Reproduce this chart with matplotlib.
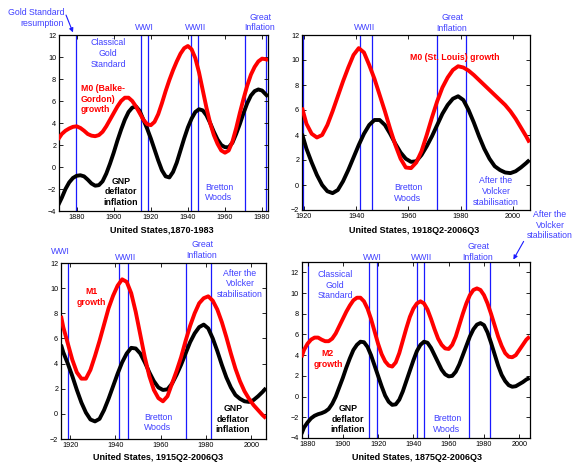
import matplotlib
matplotlib.use("Agg")
import matplotlib.pyplot as plt

plt.rcParams['font.family'] = ['Liberation Sans', 'DejaVu Sans']

W, H = 574, 463

# ---- panel 1: United States 1870-1983, M0 (Balke-Gordon) ----
p1_years = [1870, 1872, 1874, 1876, 1878, 1880, 1882, 1884, 1886, 1888, 1890, 1892, 1894, 1896, 1898,
            1900, 1902, 1904, 1906, 1908, 1910, 1912, 1914, 1916, 1918, 1920, 1922, 1924, 1926, 1928,
            1930, 1932, 1934, 1936, 1938, 1940, 1942, 1944, 1946, 1948, 1950, 1952, 1954, 1956, 1958,
            1960, 1962, 1964, 1966, 1968, 1970, 1972, 1974, 1976, 1978, 1980, 1982, 1983.2]
p1_gnp = [-3.5, -2.8, -2.0, -1.4, -1.0, -0.8, -0.75, -0.85, -1.15, -1.5, -1.7, -1.65, -1.3, -0.6, 0.3,
          1.3, 2.4, 3.4, 4.3, 5.0, 5.4, 5.5, 5.1, 4.3, 3.5, 2.6, 1.6, 0.6, -0.3, -0.85,
          -0.95, -0.45, 0.4, 1.5, 2.6, 3.6, 4.4, 5.0, 5.25, 5.15, 4.7, 4.0, 3.2, 2.5, 2.0,
          1.8, 1.8, 2.2, 3.0, 3.9, 4.9, 5.8, 6.5, 6.9, 7.05, 6.95, 6.6, 6.4]
p1_m0 = [2.5, 3.0, 3.3, 3.5, 3.65, 3.7, 3.55, 3.3, 3.0, 2.85, 2.8, 2.9, 3.2, 3.7, 4.3,
         4.9, 5.5, 6.0, 6.3, 6.3, 6.0, 5.5, 4.9, 4.3, 3.9, 3.8, 4.1, 4.8, 5.8, 6.9,
         7.9, 8.8, 9.6, 10.3, 10.8, 11.0, 10.7, 9.9, 8.6, 7.0, 5.4, 4.0, 2.9, 2.1, 1.5,
         1.3, 1.5, 2.3, 3.5, 4.9, 6.2, 7.4, 8.4, 9.1, 9.6, 9.85, 9.8, 9.7]

# ---- panel 2: United States 1918Q2-2006Q3, M0 (St. Louis) ----
p2_years = [1919.3, 1921, 1923, 1925, 1927, 1929, 1931, 1933, 1935, 1937, 1939, 1941, 1943, 1945,
            1947, 1949, 1951, 1953, 1955, 1957, 1959, 1961, 1963, 1965, 1967, 1969, 1971, 1973,
            1975, 1977, 1979, 1981, 1983, 1985, 1987, 1989, 1991, 1993, 1995, 1997, 1999, 2001,
            2003, 2005, 2006.3]
p2_gnp = [4.1, 2.9, 1.8, 0.8, 0.0, -0.5, -0.65, -0.4, 0.3, 1.2, 2.2, 3.2, 4.1, 4.8,
          5.2, 5.2, 4.8, 4.1, 3.3, 2.6, 2.1, 1.85, 1.9, 2.4, 3.1, 3.9, 4.8, 5.7,
          6.4, 6.9, 7.1, 6.8, 6.0, 5.0, 3.9, 2.9, 2.1, 1.5, 1.2, 1.0, 0.95, 1.1,
          1.4, 1.75, 2.0]
p2_m0 = [6.2, 4.9, 4.1, 3.8, 4.0, 4.8, 5.9, 7.1, 8.3, 9.4, 10.4, 10.95, 10.6, 9.6,
         8.5, 7.2, 5.9, 4.5, 3.2, 2.1, 1.4, 1.35, 1.8, 2.7, 4.0, 5.4, 6.7, 7.8,
         8.6, 9.2, 9.5, 9.4, 9.15, 8.8, 8.4, 8.0, 7.6, 7.2, 6.8, 6.4, 5.9, 5.3,
         4.6, 3.9, 3.4]

# ---- panel 3: United States 1915Q2-2006Q3, M1 ----
p3_years = [1916, 1917, 1919, 1921, 1923, 1925, 1927, 1929, 1931, 1933, 1935, 1937, 1939, 1941,
            1943, 1945, 1947, 1949, 1951, 1953, 1955, 1957, 1959, 1961, 1963, 1965, 1967, 1969,
            1971, 1973, 1975, 1977, 1979, 1981, 1983, 1985, 1987, 1989, 1991, 1993, 1995, 1997,
            1999, 2001, 2003, 2005, 2006.5]
p3_gnp = [5.5, 4.9, 4.0, 3.0, 1.9, 0.9, 0.1, -0.45, -0.6, -0.4, 0.3, 1.2, 2.2, 3.2,
          4.1, 4.8, 5.25, 5.2, 4.8, 4.1, 3.3, 2.6, 2.1, 1.9, 1.95, 2.4, 3.1, 3.9,
          4.8, 5.7, 6.4, 6.9, 7.1, 6.8, 6.0, 5.0, 3.9, 2.9, 2.1, 1.5, 1.2, 1.0,
          0.95, 1.1, 1.4, 1.75, 2.05]
p3_m1 = [7.8, 6.9, 5.6, 4.3, 3.3, 2.8, 2.8, 3.5, 4.6, 5.8, 7.1, 8.4, 9.4, 10.2,
         10.7, 10.5, 9.6, 8.1, 6.3, 4.5, 3.0, 1.9, 1.25, 1.0, 1.4, 2.4, 3.4, 4.5,
         5.8, 7.0, 8.0, 8.8, 9.2, 9.35, 9.0, 8.3, 7.3, 6.1, 4.8, 3.6, 2.6, 1.8,
         1.2, 0.7, 0.3, -0.1, -0.35]

# ---- panel 4: United States 1875Q2-2006Q3, M2 ----
p4_years = [1876.6, 1878, 1880, 1882, 1884, 1886, 1888, 1890, 1892, 1894, 1896, 1898, 1900, 1902,
            1904, 1906, 1908, 1910, 1912, 1914, 1916, 1918, 1920, 1922, 1924, 1926, 1928, 1930,
            1932, 1934, 1936, 1938, 1940, 1942, 1944, 1946, 1948, 1950, 1952, 1954, 1956, 1958,
            1960, 1962, 1964, 1966, 1968, 1970, 1972, 1974, 1976, 1978, 1980, 1982, 1984, 1986,
            1988, 1990, 1992, 1994, 1996, 1998, 2000, 2002, 2004, 2005.9]
p4_gnp = [-3.6, -3.0, -2.5, -2.1, -1.85, -1.7, -1.6, -1.45, -1.2, -0.7, 0.0, 0.9, 1.8, 2.8,
          3.7, 4.5, 5.0, 5.3, 5.25, 4.8, 4.0, 3.0, 2.0, 1.0, 0.1, -0.5, -0.8, -0.75,
          -0.3, 0.5, 1.5, 2.5, 3.5, 4.4, 5.0, 5.3, 5.2, 4.7, 4.0, 3.3, 2.6, 2.15,
          1.95, 2.0, 2.4, 3.1, 4.0, 4.9, 5.8, 6.5, 6.95, 7.1, 6.9, 6.2, 5.2, 4.1,
          3.0, 2.1, 1.5, 1.1, 0.95, 1.0, 1.2, 1.4, 1.65, 1.8]
p4_m2 = [3.8, 4.5, 5.1, 5.5, 5.7, 5.7, 5.5, 5.35, 5.35, 5.6, 6.1, 6.8, 7.5, 8.2,
         8.8, 9.3, 9.55, 9.55, 9.2, 8.5, 7.5, 6.3, 5.1, 4.1, 3.4, 3.0, 2.9, 3.3,
         4.2, 5.4, 6.6, 7.7, 8.5, 9.0, 9.2, 9.0, 8.4, 7.5, 6.5, 5.6, 5.0, 4.65,
         4.6, 5.0, 5.8, 6.9, 8.0, 9.0, 9.8, 10.3, 10.45, 10.3, 9.8, 9.0, 8.0, 6.9,
         5.8, 4.9, 4.2, 3.85, 3.8, 4.0, 4.5, 5.0, 5.5, 5.8]

# episode markers (vertical lines)
p1_events = [1879.5, 1914.5, 1918.6, 1941.6, 1945.7, 1970.6, 1982.3]
p2_events = [1919.6, 1941.6, 1946.0, 1970.9, 1982.2]
p3_events = [1919.0, 1941.6, 1945.7, 1971.3, 1982.4]
p4_events = [1880.0, 1914.9, 1919.4, 1942.0, 1946.0, 1971.5, 1983.2]

BLUE_LINE = '#1a1aff'
BLUE_TXT = '#4040ff'


def px(x, y):
    # top-left pixel position -> figure fraction
    return x / W, 1 - y / H


def panel(rect, years, gnp, money, events, xlim, ylim, yticks):
    ax = fig.add_axes(rect)
    for e in events:
        ax.axvline(e, color=BLUE_LINE, lw=0.9, zorder=1)
    ax.plot(years, gnp, color='black', lw=2.8, solid_capstyle='butt', zorder=2)
    ax.plot(years, money, color='red', lw=2.8, solid_capstyle='butt', zorder=3)
    ax.set_xticks(range(1880, 2001, 20))
    ax.set_yticks(yticks)
    ax.set_xlim(*xlim)
    ax.set_ylim(*ylim)
    ax.tick_params(direction='in', length=3, width=0.6, labelsize=5.2, pad=2,
                   top=True, right=True)
    for s in ax.spines.values():
        s.set_linewidth(0.9)
    return ax


def label(x, y, s, color=BLUE_TXT, bold=False, ha='center', size=6.3):
    fx, fy = px(x, y)
    fig.text(fx, fy, s, color=color, ha=ha, va='center', multialignment=ha,
             fontsize=size, fontweight='bold' if bold else 'normal', linespacing=1.25)


fig = plt.figure(figsize=(W / 100, H / 100), dpi=100)

panel([59 / W, 1 - 211 / H, 209 / W, 176 / H], p1_years, p1_gnp, p1_m0, p1_events,
      (1870.5, 1983.2), (-4, 12), range(-4, 13, 2))
panel([302 / W, 1 - 210 / H, 227.5 / W, 175 / H], p2_years, p2_gnp, p2_m0, p2_events,
      (1919.3, 2006.3), (-2, 12), range(-2, 13, 2))
panel([61 / W, 1 - 439 / H, 205 / W, 176 / H], p3_years, p3_gnp, p3_m1, p3_events,
      (1916, 2006.5), (-2, 12), range(-2, 13, 2))
panel([301.5 / W, 1 - 438 / H, 228.2 / W, 176 / H], p4_years, p4_gnp, p4_m2, p4_events,
      (1876.6, 2005.9), (-4, 13), range(-4, 13, 2))

# x-axis captions
label(162, 230, 'United States,1870-1983', color='black', bold=True, size=6.5)
label(414, 230, 'United States, 1918Q2-2006Q3', color='black', bold=True, size=6.5)
label(158, 457, 'United States, 1915Q2-2006Q3', color='black', bold=True, size=6.5)
label(417, 457, 'United States, 1875Q2-2006Q3', color='black', bold=True, size=6.5)

# panel 1 annotations
label(64, 18, 'Gold Standard\nresumption', ha='right')
fig.add_artist(matplotlib.patches.FancyArrowPatch(
    px(65, 12.5), px(74, 35), transform=fig.transFigure, arrowstyle='-|>',
    mutation_scale=6, color=BLUE_LINE, lw=0.8))
label(144, 28, 'WWI')
label(196, 28, 'WWII')
label(260, 22.5, 'Great\nInflation')
label(108, 53.5, 'Classical\nGold\nStandard')
label(81, 99, 'M0 (Balke-\nGordon)\ngrowth', color='red', bold=True, ha='left')
label(121, 192, 'GNP\ndeflator\ninflation', color='black', bold=True)
label(219, 192.5, 'Bretton\nWoods')

# panel 2 annotations
label(365, 28, 'WWII')
label(452, 22.8, 'Great\nInflation')
label(455, 57, 'M0 (St. Louis) growth', color='red', bold=True)
label(408, 193, 'Bretton\nWoods')
label(496, 191.7, 'After the\nVolcker\nstabilisation')

# panel 3 annotations
label(60, 252, 'WWI')
label(126, 257, 'WWII')
label(202, 250, 'Great\nInflation')
label(240, 284, 'After the\nVolcker\nstabilisation')
label(91, 297, 'M1\ngrowth', color='red', bold=True)
label(158, 422.5, 'Bretton\nWoods')
label(233, 419, 'GNP\ndeflator\ninflation', color='black', bold=True)

# panel 4 annotations
label(372, 257, 'WWI')
label(422, 257, 'WWII')
label(478, 252, 'Great\nInflation')
label(550, 225, 'After the\nVolcker\nstabilisation')
fig.add_artist(matplotlib.patches.FancyArrowPatch(
    px(525, 239), px(512, 262), transform=fig.transFigure, arrowstyle='-|>',
    mutation_scale=6, color=BLUE_LINE, lw=0.8))
label(335, 285, 'Classical\nGold\nStandard')
label(328, 359, 'M2\ngrowth', color='red', bold=True)
label(348, 419, 'GNP\ndeflator\ninflation', color='black', bold=True)
label(447, 424, 'Bretton\nWoods')

fig.savefig('out.png', dpi=100)
